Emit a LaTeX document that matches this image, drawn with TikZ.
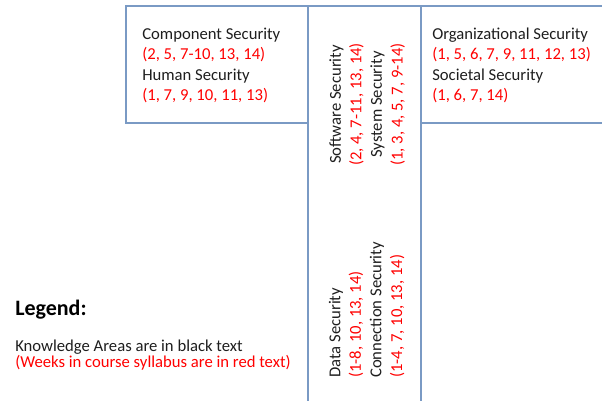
\documentclass[tikz,border=0pt]{standalone}
\usepackage{fontspec}
\setmainfont{Carlito}
\definecolor{frameblue}{RGB}{122,154,196}
\definecolor{wkred}{RGB}{255,0,0}
\definecolor{katext}{RGB}{30,30,30}
\newcommand{\wk}[1]{\textcolor{wkred}{#1}}
\tikzset{
	frame/.style={draw=frameblue, line width=1.5pt},
	area/.style={inner sep=0pt, text=katext, font=\fontsize{12.5}{15.4}\selectfont},
}

\begin{document}
\begin{tikzpicture}[x=0.75pt, y=-0.75pt]
	\useasboundingbox (0,0) rectangle (602,400);
	% boxes
	\draw[frame] (308,6) -- (126,6) -- (126,123) -- (308,123);
	\draw[frame] (308,410) -- (308,6) -- (421,6) -- (421,410);
	\draw[frame] (610,6) -- (421,6);
	\draw[frame] (421,123) -- (610,123);
	% knowledge areas (anchor base = last line)
	\node[area, anchor=base west, align=left] (human) at (142,100.8)
		{Component Security\\ \wk{(2, 5, 7-10, 13, 14)}\\ Human Security\\ \wk{(1, 7, 9, 10, 11, 13)}};
	\node[area, anchor=base west, align=left] (societal) at (432,100.8)
		{Organizational Security\\ \wk{(1, 5, 6, 7, 9, 11, 12, 13)}\\ Societal Security\\ \wk{(1, 6, 7, 14)}};
	\node[area, rotate=90, anchor=base, align=center] (system) at (402.5,104.5)
		{Software Security\\ \wk{(2, 4, 7-11, 13, 14)}\\ System Security\\ \wk{(1, 3, 4, 5, 7, 9-14)}};
	\node[area, rotate=90, anchor=base west, align=left] (data) at (402,378)
		{Data Security\\ \wk{(1-8, 10, 13, 14)}\\ Connection Security\\ \wk{(1-4, 7, 10, 13, 14)}};
	% legend
	\node[area, anchor=base west, font=\fontsize{16.5}{18}\selectfont\bfseries, text=black] (legend) at (15,315.5) {Legend:};
	\node[area, anchor=base west, align=left, font=\fontsize{12.5}{12.2}\selectfont] (legtext) at (15,367.3)
		{Knowledge Areas are in black text\\ \wk{(Weeks in course syllabus are in red text)}};
\end{tikzpicture}
\end{document}
